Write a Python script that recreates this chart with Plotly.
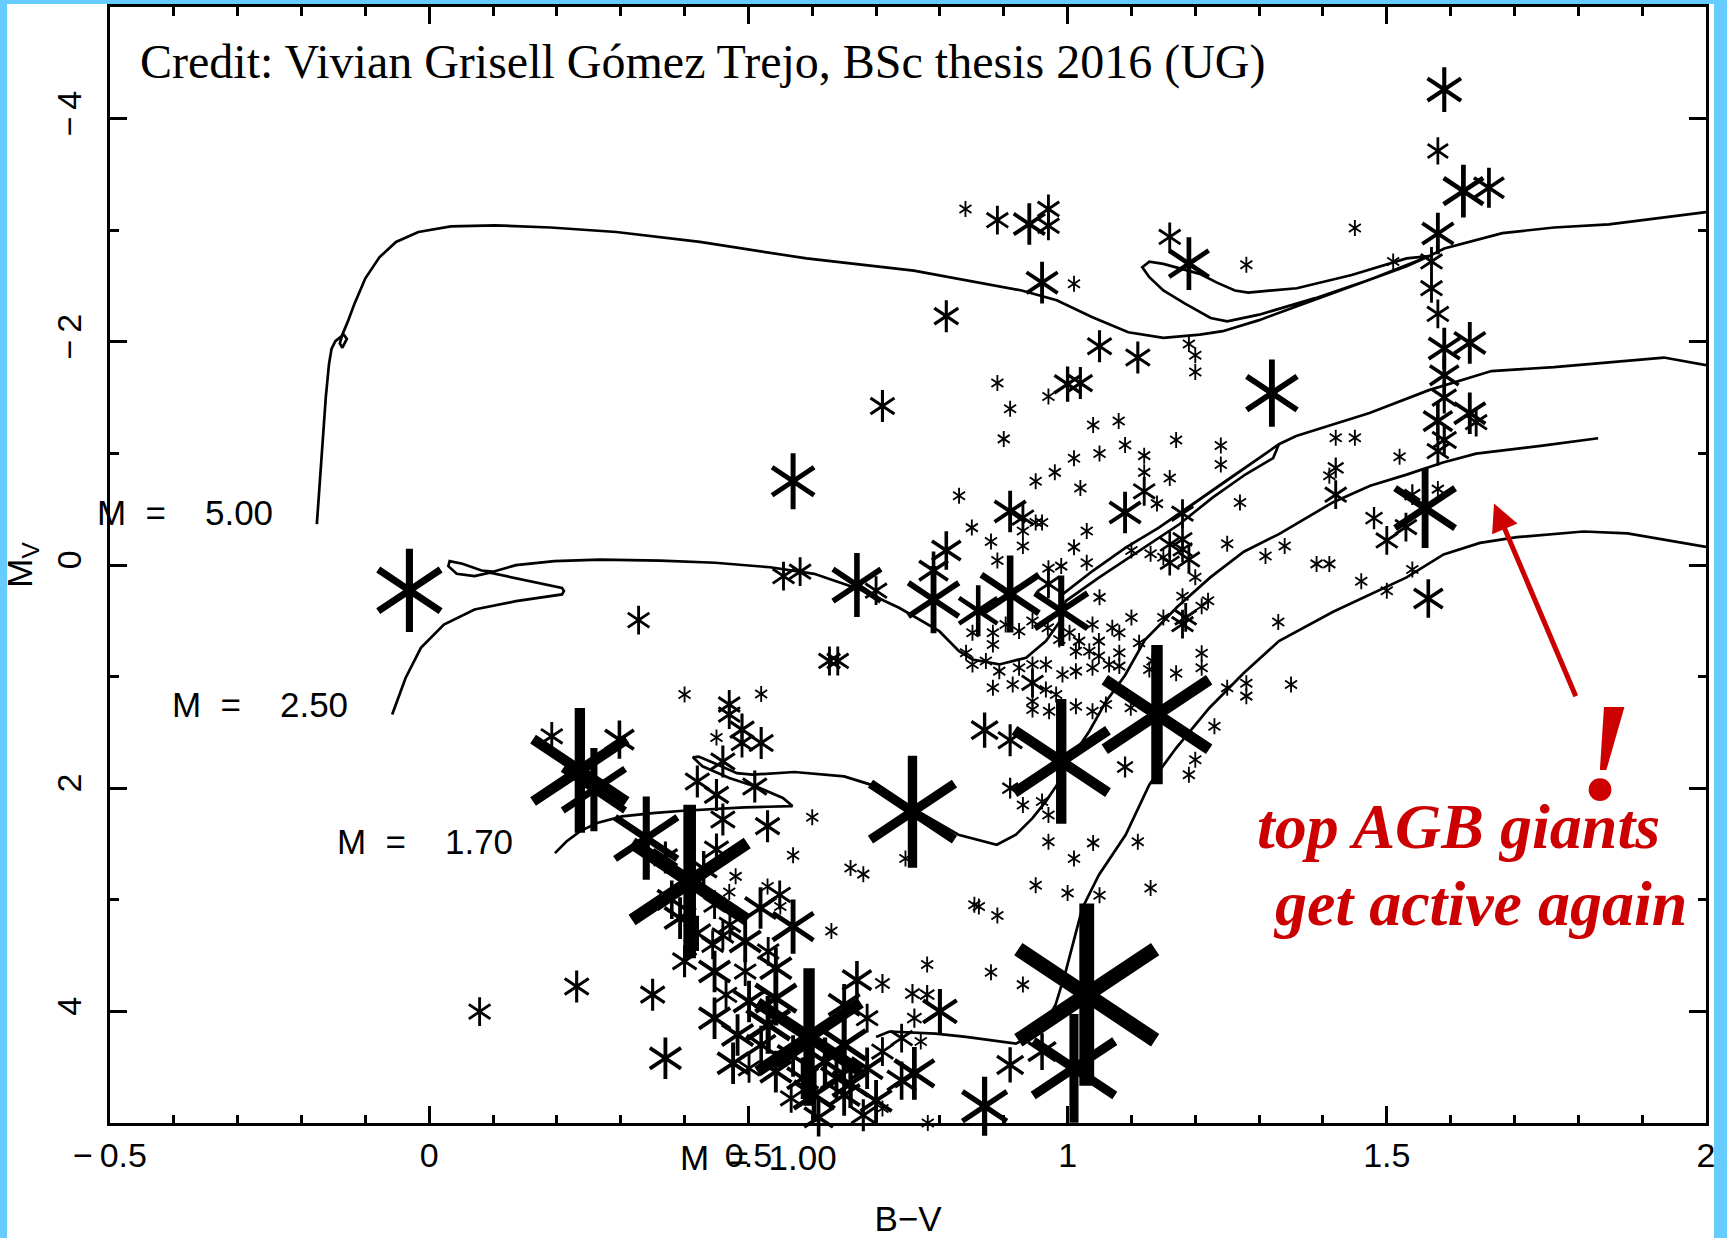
import plotly.graph_objects as go

# ---------------------------------------------------------------------------
# Evolutionary tracks (B-V, M_V) labelled by stellar mass
# ---------------------------------------------------------------------------
track_m500_bv = [-0.176, -0.172, -0.167, -0.162, -0.157, -0.153, -0.147, -0.134, -0.129, -0.136,
                 -0.140, -0.136, -0.128, -0.117, -0.100, -0.078, -0.052, -0.017, 0.034, 0.103,
                 0.190, 0.293, 0.424, 0.591, 0.759, 0.928, 0.983, 1.038, 1.095, 1.150,
                 1.207, 1.243, 1.300, 1.362, 1.414, 1.474, 1.531, 1.566,
                 1.531, 1.445, 1.359, 1.283, 1.262, 1.234, 1.207, 1.150, 1.128, 1.117,
                 1.128, 1.150, 1.184, 1.224, 1.250, 1.300, 1.388, 1.474, 1.531, 1.566,
                 1.590, 1.681, 1.762, 1.848, 2.0]
track_m500_mv = [-0.366, -0.711, -1.107, -1.502, -1.798, -1.937, -2.006, -2.065, -2.026, -1.947,
                 -1.986, -2.065, -2.174, -2.342, -2.569, -2.757, -2.895, -2.984, -3.034, -3.043,
                 -3.024, -2.984, -2.895, -2.747, -2.638, -2.460, -2.372, -2.223, -2.085, -2.036,
                 -2.065, -2.095, -2.194, -2.322, -2.431, -2.559, -2.678, -2.767,
                 -2.747, -2.599, -2.480, -2.441, -2.460, -2.530, -2.609, -2.698, -2.717, -2.668,
                 -2.579, -2.460, -2.342, -2.213, -2.184, -2.243, -2.391, -2.559, -2.688, -2.767,
                 -2.836, -2.974, -3.024, -3.053, -3.162]

track_m250_bv = [-0.058, -0.037, -0.013, 0.023, 0.071, 0.136, 0.208, 0.211, 0.208, 0.095,
                 0.071, 0.043, 0.030, 0.032, 0.052, 0.082, 0.100, 0.136, 0.196, 0.267,
                 0.362, 0.448, 0.534, 0.603, 0.674, 0.736, 0.799, 0.830, 0.851, 0.893,
                 0.935, 0.966, 0.992, 0.997, 1.049, 1.112, 1.175, 1.227, 1.279, 1.322,
                 1.331, 1.248, 1.196, 1.143, 1.091, 1.039, 0.992, 1.039, 1.091, 1.143,
                 1.196, 1.248, 1.331, 1.358, 1.473, 1.566, 1.664, 1.762, 1.934, 2.0]
track_m250_mv = [1.340, 1.012, 0.742, 0.534, 0.398, 0.324, 0.264, 0.234, 0.205, 0.069,
                 0.100, 0.079, 0.010, -0.035, -0.011, 0.049, 0.060, 0.001, -0.035, -0.049,
                 -0.040, -0.020, 0.020, 0.079, 0.218, 0.383, 0.593, 0.772, 0.847, 0.891,
                 0.831, 0.682, 0.472, 0.323, 0.114, -0.125, -0.365, -0.604, -0.813, -0.958,
                 -1.082, -0.753, -0.543, -0.335, -0.155, 0.054, 0.263, 0.054, -0.155, -0.335,
                 -0.543, -0.753, -1.082, -1.156, -1.362, -1.567, -1.738, -1.773, -1.859, -1.791]

track_m170_bv = [0.197, 0.215, 0.236, 0.263, 0.302, 0.350, 0.398, 0.446, 0.494, 0.530,
                 0.569, 0.554, 0.518, 0.470, 0.428, 0.413, 0.422, 0.446, 0.482, 0.506,
                 0.530, 0.572, 0.650, 0.709, 0.757, 0.829, 0.889, 0.919, 0.945, 0.966,
                 0.987, 1.002, 1.034, 1.060, 1.090, 1.121, 1.172, 1.224, 1.276, 1.331,
                 1.416, 1.474, 1.531, 1.588, 1.640, 1.741, 1.831]
track_m170_mv = [2.582, 2.477, 2.387, 2.312, 2.253, 2.223, 2.202, 2.184, 2.172, 2.166,
                 2.160, 2.088, 1.999, 1.909, 1.804, 1.723, 1.717, 1.775, 1.865, 1.879,
                 1.868, 1.855, 1.894, 1.999, 2.178, 2.417, 2.507, 2.417, 2.268, 2.118,
                 1.939, 1.759, 1.490, 1.225, 0.988, 0.672, 0.375, 0.109, -0.119, -0.277,
                 -0.563, -0.711, -0.810, -0.919, -0.998, -1.067, -1.136]

track_m100_bv = [0.700, 0.721, 0.793, 0.841, 0.919, 0.957, 0.981,
                 0.997, 1.023, 1.049, 1.091, 1.128, 1.170, 1.222, 1.276, 1.331, 1.416,
                 1.531, 1.589, 1.646, 1.704, 1.808, 1.877, 2.0]
track_m100_mv = [4.230, 4.180, 4.200, 4.229, 4.289, 4.180, 3.943,
                 3.643, 3.075, 2.777, 2.417, 1.968, 1.640, 1.281, 0.968, 0.682, 0.419,
                 0.111, -0.095, -0.198, -0.249, -0.300, -0.284, -0.163]

# ---------------------------------------------------------------------------
# Observed stars: colour, absolute magnitude and chromospheric activity level
# (the activity level sets the size and weight of each asterisk)
# ---------------------------------------------------------------------------
# upper giant branch / AGB
bv_agb = [1.59, 1.58, 1.62, 1.66, 1.45, 1.58, 1.16, 1.19, 1.28, 1.51, 1.57, 1.57, 1.58, 1.19, 1.20,
          1.20, 1.32, 1.59, 1.63, 1.59, 1.59, 1.58, 1.59, 1.58, 1.63, 1.64, 1.56, 1.54, 1.53, 1.50,
          1.48, 1.58, 1.565, 1.54, 1.50, 1.46, 1.39, 1.41, 1.33, 1.42, 1.42, 1.41, 1.42, 1.45, 1.52,
          1.31, 1.34, 1.27, 1.14, 1.25, 1.18]
mv_agb = [-4.26, -3.71, -3.35, -3.38, -3.02, -2.97, -2.94, -2.70, -2.69, -2.72, -2.72, -2.48, -2.25,
          -1.98, -1.88, -1.73, -1.54, -1.94, -1.99, -1.70, -1.50, -1.29, -1.12, -1.02, -1.36, -1.28,
          -0.51, -0.63, -0.34, -0.22, -0.42, -0.68, 0.30, 0.04, 0.23, 0.145, -0.01, -0.01, 0.51,
          -0.63, -0.87, -0.80, -1.14, -1.14, -0.97, -0.08, -0.17, -0.56, -0.55, -0.19, -0.46]
act_agb = [2.8, 1.7, 3.3, 2.5, 1.0, 2.6, 1.8, 3.3, 1.0, 1.0, 1.8, 1.8, 1.8, 1.0, 1.0,
           1.0, 4.2, 2.6, 2.6, 2.4, 2.0, 2.4, 2.0, 1.8, 2.6, 1.8, 5.0, 1.3, 1.8, 1.8,
           1.4, 1.0, 2.4, 1.0, 1.0, 1.0, 1.0, 1.0, 1.0, 1.8, 1.3, 1.0, 1.0, 1.0, 1.0,
           1.0, 1.0, 1.0, 1.0, 1.0, 1.8]

# bright giants above the clump
bv_bright = [0.84, 0.89, 0.94, 0.97, 0.97, 0.96, 1.01, 0.81, 0.71, 0.57, 1.05, 1.11, 0.89, 1.00, 1.02,
             0.97, 0.91, 0.90, 1.04, 1.08, 1.09, 1.05, 1.01, 1.17, 1.24, 1.24, 1.12, 1.12, 1.12, 1.16,
             0.95, 0.98, 1.02, 0.83]
mv_bright = [-3.19, -3.09, -3.055, -3.19, -3.04, -2.53, -2.52, -2.23, -1.425, -0.75, -1.96, -1.86,
             -1.63, -1.62, -1.63, -1.51, -1.40, -1.13, -1.255, -1.29, -1.075, -1.00, -0.956, -1.12,
             -1.07, -0.90, -0.98, -0.83, -0.66, -0.78, -0.75, -0.83, -0.69, -0.62]
act_bright = [1.0, 1.8, 2.6, 1.8, 1.8, 2.6, 1.0, 2.0, 2.0, 3.5, 2.0, 2.0, 1.0, 2.2, 2.0,
              1.0, 1.0, 1.0, 1.0, 1.0, 1.0, 1.0, 1.0, 1.0, 1.0, 1.0, 1.0, 1.0, 1.8, 1.0,
              1.0, 1.0, 1.0, 1.0]

# red clump region
bv_clump = [1.09, 0.91, 0.93, 0.95, 0.96, 0.93, 0.93, 0.85, 0.88, 0.89, 1.03, 1.01, 1.03, 0.99, 0.97,
            0.81, 0.79, 0.79, 0.70, 0.67, 0.86, 0.91, 0.99, 1.05, 0.97, 1.16, 1.16, 1.18, 1.18, 1.19,
            1.15, 1.13, 1.10, 1.20, 1.18, 1.21, 1.22, 1.10, 1.15, 1.18, 1.185, 1.21, 1.21, 1.28, 1.28,
            1.25, 1.23]
mv_clump = [-0.47, -0.48, -0.425, -0.38, -0.38, -0.305, -0.17, -0.335, -0.21, -0.04, -0.305, -0.16,
            -0.02, 0.01, 0.03, -0.13, 0.05, 0.31, 0.23, 0.18, 0.41, 0.26, 0.41, 0.29, 0.17, -0.185,
            -0.02, -0.23, -0.14, -0.05, -0.07, -0.10, -0.13, 0.11, 0.28, 0.37, 0.32, 0.47, 0.47, 0.53,
            0.47, 0.79, 0.92, 1.06, 1.175, 1.10, 1.445]
act_clump = [2.6, 2.6, 1.8, 1.0, 1.0, 1.0, 1.0, 1.0, 1.0, 1.0, 1.0, 1.0, 1.0, 1.0, 1.0,
             2.4, 2.4, 4.2, 1.8, 4.0, 3.2, 4.8, 4.4, 1.0, 1.8, 1.6, 1.6, 1.6, 1.6, 1.8,
             1.0, 1.0, 1.0, 1.0, 1.0, 1.0, 1.0, 1.0, 1.0, 1.8, 1.8, 1.0, 1.0, 1.0, 1.0,
             1.0, 1.0]

# lower red giant branch
bv_lrgb = [0.851, 0.883, 0.883, 0.903, 0.924, 0.945, 0.969, 0.987, 1.003, 1.018, 1.039, 1.049, 1.013,
           1.034, 1.049, 1.070, 1.081, 1.081, 1.112, 1.133, 1.081, 1.065, 1.039, 1.013, 0.992, 0.966,
           0.945, 0.924, 0.893, 0.872, 0.851, 0.841, 0.883, 0.914, 0.945, 0.966, 0.982, 0.945, 0.971,
           0.945, 1.013, 1.039, 1.060, 1.099, 1.128, 0.87, 0.91]
mv_lrgb = [0.607, 0.607, 0.712, 0.533, 0.592, 0.502, 0.562, 0.667, 0.607, 0.682, 0.533, 0.682, 0.772,
           0.772, 0.816, 0.562, 0.607, 0.786, 0.697, 0.861, 0.906, 0.891, 0.921, 0.951, 0.981, 0.891,
           0.891, 0.921, 0.951, 0.861, 0.891, 0.786, 1.100, 1.070, 1.056, 1.115, 1.160, 1.220, 1.310,
           1.295, 1.265, 1.310, 1.250, 1.280, 0.936, 1.48, 1.57]
act_lrgb = [1.0, 1.0, 1.0, 1.0, 1.0, 1.0, 1.0, 1.0, 1.0, 1.0, 1.0, 1.0, 1.0,
            1.0, 1.0, 1.0, 1.0, 1.0, 1.0, 1.0, 1.0, 1.0, 1.0, 1.0, 1.0, 1.0,
            1.0, 1.0, 1.0, 1.0, 1.0, 1.0, 1.0, 1.0, 1.8, 1.0, 1.0, 1.0, 1.0,
            1.0, 1.0, 1.0, 1.0, 1.0, 1.0, 2.2, 2.0]

# subgiants
bv_sub = [0.99, 1.14, 1.03, 1.01, 0.87, 0.91, 0.96, 1.09, 1.20, 1.19, 1.17, 0.91, 0.93, 0.96, 0.97,
          0.97, 1.04, 1.11, 1.01, 0.95, 1.00, 1.05, 1.13, 0.854, 0.861, 0.89, 0.88, 0.93, 1.35]
mv_sub = [1.76, 1.34, 3.85, 4.51, 4.85, 4.48, 4.36, 1.81, 1.745, 1.88, 0.97, 2.00, 2.15, 2.12, 2.24,
          2.48, 2.49, 2.48, 2.63, 2.87, 2.94, 2.96, 2.895, 3.045, 3.06, 3.14, 3.65, 3.76, 1.07]
act_sub = [7.8, 8.7, 11.4, 6.8, 3.7, 2.2, 2.3, 1.3, 1.0, 1.0, 1.0, 1.3, 1.0, 1.0, 1.0,
           1.0, 1.0, 1.0, 1.0, 1.0, 1.0, 1.0, 1.0, 1.0, 1.0, 1.0, 1.0, 1.0, 1.0]

# upper main sequence
bv_ums = [0.40, 0.52, 0.47, 0.47, 0.49, 0.49, 0.52, 0.45, 0.46, 0.42, 0.45, 0.51, 0.46, 0.53, 0.60,
          0.57, 0.66, 0.68, 0.45, 0.48, 0.53, 0.47, 0.55, 0.63, 0.57, 0.757, 0.746, 0.78, 0.67, 0.71,
          0.757, 0.78, 0.80, 0.76, 0.77, 0.76, 0.71, 0.35, 0.37, 0.476, 0.408, 0.34, 0.298]
mv_ums = [1.16, 1.155, 1.25, 1.34, 1.475, 1.595, 1.595, 1.545, 1.76, 1.94, 2.06, 1.985, 2.28, 2.34,
          2.26, 2.60, 2.715, 2.77, 2.55, 2.79, 2.88, 2.93, 3.06, 3.28, 3.24, 2.21, 2.63, 3.58, 3.72,
          3.75, 3.84, 3.85, 4.00, 4.06, 4.27, 4.555, 4.87, 3.85, 4.42, 4.465, 2.836, 2.447, 1.565]
act_ums = [1.0, 1.0, 1.8, 1.8, 2.0, 1.8, 2.0, 1.0, 2.0, 2.0, 2.0, 2.0, 2.0, 2.0, 1.0,
           1.0, 1.0, 1.0, 2.0, 1.0, 1.0, 1.0, 1.0, 1.0, 3.4, 7.0, 1.0, 1.0, 2.4, 1.2,
           1.2, 1.2, 2.8, 1.2, 1.0, 3.3, 1.0, 2.0, 2.6, 2.6, 9.6, 5.2, 2.4]

# lower main sequence
bv_lms = [0.236, 0.258, 0.192, 0.231, 0.393, 0.447, 0.471, 0.519, 0.549, 0.444, 0.495, 0.531, 0.447,
          0.495, 0.543, 0.465, 0.501, 0.543, 0.447, 0.483, 0.531, 0.650, 0.686, 0.650, 0.686, 0.638,
          0.585, 0.543, 0.501, 0.603, 0.567, 0.650, 0.710, 0.740, 0.595, 0.37, 0.43, 0.38, 0.42,
          0.40, 0.46, 0.62, 0.66, 0.70, 0.57, 0.52, 0.61, 0.68, 0.74]
mv_lms = [1.84, 2.013, 1.535, 3.777, 3.164, 3.044, 3.224, 3.074, 2.955, 3.403, 3.373, 3.463, 3.643,
          3.643, 3.613, 3.852, 3.911, 3.882, 4.061, 4.211, 4.121, 3.941, 4.061, 4.300, 4.510, 4.599,
          4.599, 4.540, 4.510, 4.749, 4.779, 4.749, 4.360, 4.240, 4.23, 2.62, 2.72, 3.00, 3.30,
          3.55, 3.32, 4.45, 4.65, 4.80, 4.40, 4.30, 4.95, 4.93, 4.62]
act_lms = [7.8, 5.2, 1.8, 2.0, 2.6, 1.8, 1.8, 2.6, 1.8, 1.8, 2.6, 1.8, 2.6,
           1.8, 2.6, 1.8, 2.6, 3.4, 2.6, 2.6, 3.6, 2.6, 1.8, 3.6, 2.6, 2.6,
           2.6, 2.6, 1.8, 3.4, 1.8, 2.6, 1.8, 1.8, 8.6, 2.0, 2.2, 2.4, 2.2,
           2.0, 1.8, 3.0, 3.0, 2.6, 2.6, 2.4, 2.4, 2.0, 2.4]

# hot stars and field stars
bv_field = [-0.031, 0.328, 0.079, 0.555, 0.581, 0.627, 0.640, 0.781]
mv_field = [0.227, 0.494, 4.002, 0.10, 0.06, 0.86, 0.86, 5.0]
act_field = [5.2, 1.8, 1.8, 1.8, 1.8, 1.8, 1.8, 1.0]

groups = [
    (bv_agb, mv_agb, act_agb),
    (bv_bright, mv_bright, act_bright),
    (bv_clump, mv_clump, act_clump),
    (bv_lrgb, mv_lrgb, act_lrgb),
    (bv_sub, mv_sub, act_sub),
    (bv_ums, mv_ums, act_ums),
    (bv_lms, mv_lms, act_lms),
    (bv_field, mv_field, act_field),
]

star_bv, star_mv, star_act = [], [], []
for bv, mv, act in groups:
    assert len(bv) == len(mv) == len(act)
    star_bv += bv
    star_mv += mv
    star_act += act

tracks = [
    (track_m500_bv, track_m500_mv),
    (track_m250_bv, track_m250_mv),
    (track_m170_bv, track_m170_mv),
    (track_m100_bv, track_m100_mv),
]

# ---------------------------------------------------------------------------
fig = go.Figure()

for bv, mv in tracks:
    fig.add_trace(go.Scatter(
        x=bv, y=mv, mode="lines",
        line=dict(color="black", width=2.7),
        hoverinfo="skip", showlegend=False,
    ))

# six-armed asterisks: a "Y" and an inverted "Y" on top of each other
marker_size = [10.0 * a for a in star_act]
marker_lw = [0.6 + 0.125 * s for s in marker_size]
for sym in ("y-up", "y-down"):
    fig.add_trace(go.Scatter(
        x=star_bv, y=star_mv, mode="markers",
        marker=dict(symbol=sym, size=marker_size, color="black", opacity=1,
                    line=dict(color="black", width=marker_lw)),
        cliponaxis=False, hoverinfo="skip", showlegend=False,
    ))

label_font = dict(family="Liberation Sans, Arial, sans-serif", size=35, color="black")
nb = "\u00a0"
track_labels = [
    ("5.00", -0.241, -0.466, "x", "y"),
    ("2.50", -0.124, 1.248, "x", "y"),
    ("1.70", 0.134, 2.475, "x", "y"),
]
annotations = []
for mass, lx, ly, xr, yr in track_labels:
    annotations.append(dict(
        text=f"M{nb}{nb}={nb}{nb}{nb}{nb}{mass}", x=lx, y=ly, xref=xr, yref=yr,
        xanchor="right", yanchor="middle", showarrow=False, font=label_font))
# the 1 Msun track starts below the plotted magnitude range
annotations.append(dict(
    text=f"M{nb}{nb}={nb}{nb}1.00", x=0.457, y=-0.031, xref="paper", yref="paper",
    xanchor="right", yanchor="middle", showarrow=False, font=label_font))

annotations.append(dict(
    text="Credit: Vivian Grisell Gómez Trejo, BSc thesis 2016 (UG)",
    x=0.0174, y=0.951, xref="paper", yref="paper", xanchor="left", yanchor="middle",
    showarrow=False,
    font=dict(family="Liberation Serif, Times New Roman, serif", size=48, color="black")))

red = "#CC0000"
red_font = dict(family="Liberation Serif, Times New Roman, serif", size=64, color=red)
annotations.append(dict(
    text="<b><i>top AGB giants</i></b>", x=1.293, y=2.342, xref="x", yref="y",
    xanchor="left", yanchor="middle", showarrow=False, font=red_font))
annotations.append(dict(
    text="<b><i>get active again</i></b>", x=1.318, y=3.03, xref="x", yref="y",
    xanchor="left", yanchor="middle", showarrow=False, font=red_font))
annotations.append(dict(
    text="<b><i>!</i></b>", x=1.842, y=1.67, xref="x", yref="y",
    xanchor="center", yanchor="middle", showarrow=False,
    font=dict(family="Liberation Serif, Times New Roman, serif", size=140, color=red)))
annotations.append(dict(
    text="", x=1.668, y=-0.55, xref="x", yref="y",
    ax=1.797, ay=1.19, axref="x", ayref="y",
    showarrow=True, arrowhead=2, arrowsize=1.1, arrowwidth=5, arrowcolor=red,
    standoff=0, startstandoff=0))

tick_font = dict(family="Liberation Sans, Arial, sans-serif", size=34, color="black")
axis_common = dict(
    showline=True, linewidth=3, linecolor="black", mirror="allticks",
    ticks="inside", ticklen=17, tickwidth=3, tickcolor="black",
    showgrid=False, zeroline=False, tickfont=tick_font, automargin=False,
)

x_ticks = [-0.5, 0, 0.5, 1, 1.5, 2]
x_ticktext = ["\u2212\u20090.5", "0", "0.5", "1", "1.5", "2"]
y_ticks = [-4, -2, 0, 2, 4]
y_ticktext = ["\u2212\u20094", "\u2212\u20092", "0", "2", "4"]

fig.update_layout(
    width=1727, height=1238,
    margin=dict(l=110, r=21, t=7, b=115),
    paper_bgcolor="#66CCFF",
    plot_bgcolor="white",
    showlegend=False,
    annotations=annotations,
    shapes=[dict(type="rect", xref="paper", yref="paper",
                 x0=-0.0645, x1=1.005, y0=-0.2, y1=1.0027,
                 fillcolor="white", line=dict(width=0), layer="below")],
    xaxis=dict(
        range=[-0.5, 2], tickmode="array", tickvals=x_ticks, ticktext=x_ticktext,
        minor=dict(ticks="inside", ticklen=8.5, tickwidth=3, tickcolor="black",
                   tickmode="linear", tick0=0, dtick=0.1),
        ticklabelstandoff=0,
        title=dict(text="B\u2212V", font=dict(family="Liberation Sans, Arial, sans-serif",
                                               size=35, color="black"), standoff=46),
        **axis_common,
    ),
    yaxis=dict(
        range=[5, -5], tickmode="array", tickvals=y_ticks, ticktext=y_ticktext,
        minor=dict(ticks="inside", ticklen=8.5, tickwidth=3, tickcolor="black",
                   tickmode="linear", tick0=0, dtick=1),
        tickangle=-90, ticklabelstandoff=12,
        title=dict(text="M<sub>V</sub>", font=dict(family="Liberation Sans, Arial, sans-serif",
                                                    size=35, color="black"), standoff=12),
        **axis_common,
    ),
)

fig.write_html("out.html", config={"displayModeBar": False})
